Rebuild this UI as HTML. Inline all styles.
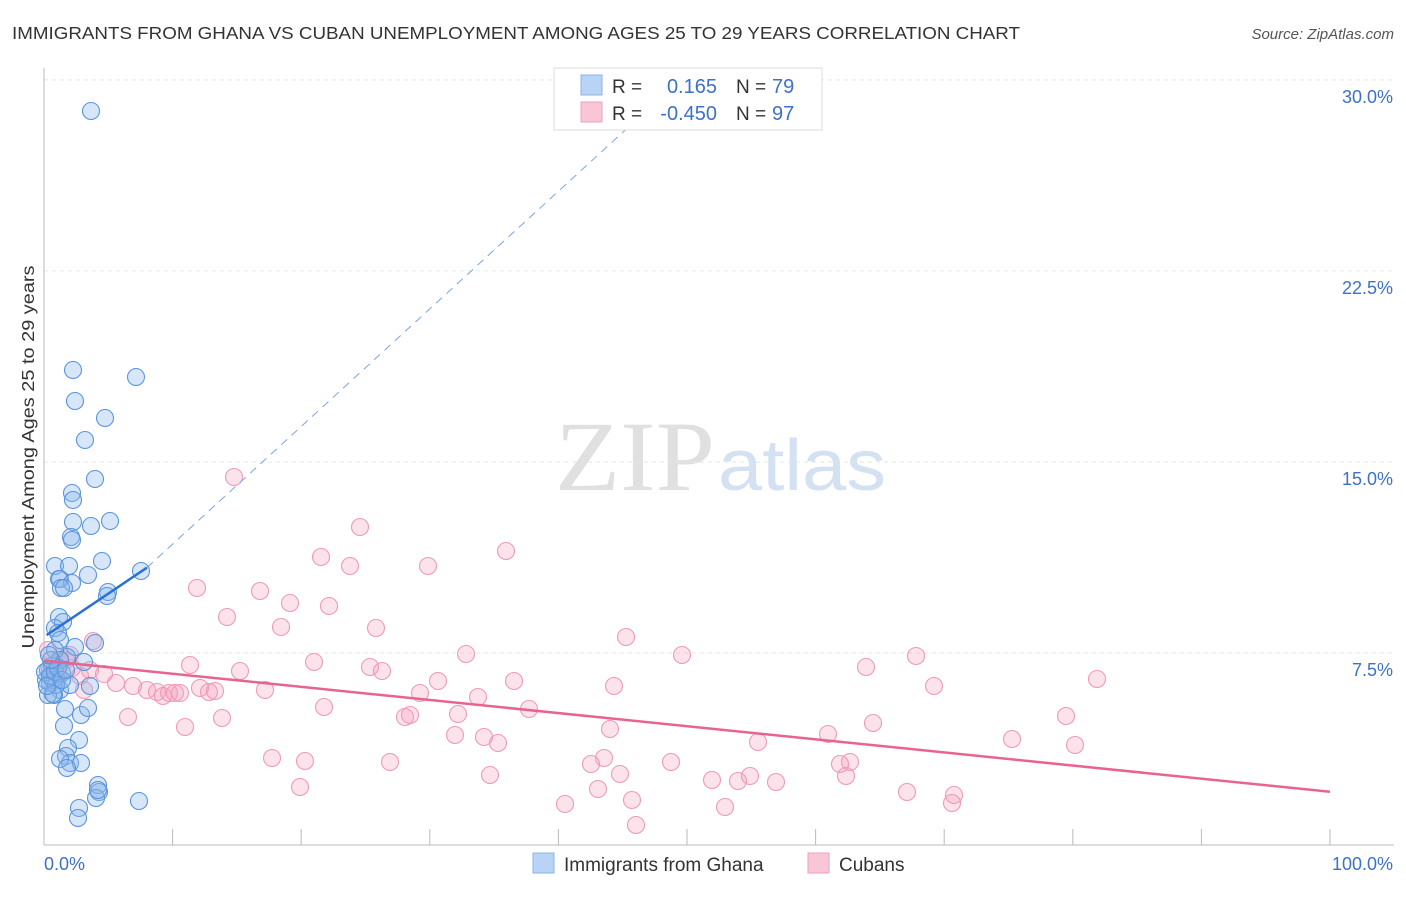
<!DOCTYPE html>
<html><head><meta charset="utf-8"><style>
body{margin:0;background:#fff;font-family:"Liberation Sans",sans-serif}
</style></head><body>
<svg width="1406" height="892" font-family="Liberation Sans, sans-serif">
<text x="12" y="39" font-size="17.5" fill="#333" textLength="1008" lengthAdjust="spacingAndGlyphs">IMMIGRANTS FROM GHANA VS CUBAN UNEMPLOYMENT AMONG AGES 25 TO 29 YEARS CORRELATION CHART</text>
<text x="1394" y="39" font-size="15" fill="#555" text-anchor="end" font-style="italic">Source: ZipAtlas.com</text>
<text x="555" y="490" font-size="100" fill="#e0e0e0" textLength="160" lengthAdjust="spacingAndGlyphs" font-family="Liberation Serif, serif">ZIP</text>
<text x="718" y="490" font-size="72" fill="#d3e1f3" textLength="168" lengthAdjust="spacingAndGlyphs">atlas</text>
<g id="grid"></g>
<g id="axes"></g>
<g id="pts"></g>
<g id="trend"></g>
<text transform="translate(34,457) rotate(-90)" font-size="17.5" fill="#333" text-anchor="middle" textLength="383" lengthAdjust="spacingAndGlyphs">Unemployment Among Ages 25 to 29 years</text>
<g>
<rect x="554" y="68" width="268" height="62" fill="#fff" stroke="#ddd"/>
<rect x="581" y="75" width="21" height="20" fill="#b8d3f5" stroke="#8ab4ea"/>
<rect x="581" y="102" width="21" height="20" fill="#f9c6d6" stroke="#f0a0ba"/>
<text x="612" y="93" font-size="19" fill="#333">R = </text><text x="717" y="93" font-size="20" fill="#3a72c9" text-anchor="end">0.165</text>
<text x="736" y="93" font-size="19" fill="#333">N = </text><text x="772" y="93" font-size="20" fill="#3a72c9">79</text>
<text x="612" y="120" font-size="19" fill="#333">R = </text><text x="717" y="120" font-size="20" fill="#3a72c9" text-anchor="end">-0.450</text>
<text x="736" y="120" font-size="19" fill="#333">N = </text><text x="772" y="120" font-size="20" fill="#3a72c9">97</text>
</g>
<g>
<rect x="533" y="853" width="21" height="20" fill="#b8d3f5" stroke="#8ab4ea"/>
<text x="564" y="871" font-size="19" fill="#333">Immigrants from Ghana</text>
<rect x="808" y="853" width="21" height="20" fill="#f9c6d6" stroke="#f0a0ba"/>
<text x="839" y="871" font-size="19" fill="#333">Cubans</text>
</g>
</svg>
<script>
const yTicks=[7.5,15,22.5,30];
const yTickLabels=["7.5%","15.0%","22.5%","30.0%"];
const xTickLabels=["0.0%","100.0%"];
const ghanaPx=[[91,111],[73,370],[136,377],[75,401],[105,418],[85,440],[95,479],[72,493],[73,500],[73,522],[91,526],[110,521],[71,537],[72,540],[55,566],[69,566],[60,579],[59,579],[72,583],[88,575],[102,561],[61,588],[64,588],[108,592],[107,596],[141,571],[59,617],[63,622],[55,628],[58,633],[60,640],[75,647],[95,643],[67,657],[84,662],[55,650],[52,676],[50,683],[57,680],[62,673],[60,690],[90,686],[54,695],[70,685],[81,715],[88,708],[65,709],[64,726],[79,740],[68,748],[66,756],[70,763],[60,759],[81,763],[67,768],[98,785],[99,792],[96,798],[98,790],[139,801],[79,808],[78,818],[48,695],[46,680],[52,666],[48,670],[53,680],[45,672],[56,685],[60,660],[53,694],[50,676],[55,672],[58,668],[47,686],[62,680],[51,660],[66,670],[49,655]];
const cubaPx=[[234,477],[360,527],[506,551],[321,557],[350,566],[428,566],[197,588],[260,591],[290,603],[329,606],[227,617],[281,627],[376,628],[626,637],[93,641],[682,655],[466,654],[916,656],[190,665],[314,662],[370,667],[382,671],[866,667],[240,671],[60,658],[72,668],[90,670],[104,674],[116,683],[133,686],[147,690],[157,692],[169,693],[175,693],[163,696],[180,693],[200,688],[209,692],[215,691],[265,690],[420,693],[438,681],[478,697],[514,681],[614,686],[934,686],[1097,679],[324,707],[128,717],[222,718],[185,727],[405,717],[410,715],[458,714],[529,709],[610,729],[873,723],[1066,716],[455,735],[484,737],[498,743],[758,742],[828,734],[1012,739],[1075,745],[272,758],[305,761],[390,762],[604,758],[591,764],[671,762],[840,764],[850,762],[300,787],[490,775],[620,774],[712,780],[738,781],[750,776],[776,782],[846,776],[598,789],[907,792],[954,795],[632,800],[565,804],[725,807],[952,803],[636,825],[55,665],[66,660],[80,676],[48,650],[58,674],[70,655],[84,690],[50,670]];
const ghanaX=ghanaPx.map(p=>(p[0]-44)/12.86), ghanaY=ghanaPx.map(p=>(844-p[1])/25.47);
const cubaX=cubaPx.map(p=>(p[0]-44)/12.86), cubaY=cubaPx.map(p=>(844-p[1])/25.47);
const ghanaTrend=[[0.2,8.2],[8,10.85],[46,28.4]];
const cubaTrend=[[0,7.2],[100,2.05]];
const X=v=>44+v*12.86, Y=v=>844-v*25.47;
const NS="http://www.w3.org/2000/svg";
function mk(t,a,parent){const e=document.createElementNS(NS,t);for(const k in a)e.setAttribute(k,a[k]);document.getElementById(parent).appendChild(e);return e;}
yTicks.forEach((v,i)=>{
 const l=mk('line',{x1:44,x2:1394,y1:Y(v),y2:Y(v),stroke:'#e6e6e6','stroke-dasharray':'4,4'},'grid');
 
 
 const t=mk('text',{x:1393,y:Y(v)+23,'font-size':18,fill:'#3a72c9','text-anchor':'end'},'grid');t.textContent=yTickLabels[i];
 
 
});
const ax=mk('line',{x1:44,x2:44,y1:68,y2:845,stroke:'#bbb'},'axes');


const bx=mk('line',{x1:44,x2:1394,y1:845,y2:845,stroke:'#bbb'},'axes');


for(let i=0;i<=10;i++){const t=mk('line',{x1:X(i*10),x2:X(i*10),y1:829,y2:845,stroke:'#bbb'},'axes');
 
 }
const t0=mk('text',{x:44,y:870,'font-size':18,fill:'#3a72c9'},'axes');t0.textContent=xTickLabels[0];


const t1=mk('text',{x:1393,y:870,'font-size':18,fill:'#3a72c9','text-anchor':'end'},'axes');t1.textContent=xTickLabels[1];


cubaX.forEach((x,i)=>{const c=mk('circle',{cx:X(x),cy:Y(cubaY[i]),r:8.5,fill:'rgba(244,160,188,0.3)',stroke:'#ee9ab6','stroke-width':1.1},'pts');
 
 });
ghanaX.forEach((x,i)=>{const c=mk('circle',{cx:X(x),cy:Y(ghanaY[i]),r:8.5,fill:'rgba(140,182,236,0.35)',stroke:'#5a94de','stroke-width':1.1},'pts');
 
 });
const g1=mk('line',{x1:X(ghanaTrend[0][0]),y1:Y(ghanaTrend[0][1]),x2:X(ghanaTrend[1][0]),y2:Y(ghanaTrend[1][1]),stroke:'#2a6fd6','stroke-width':2.5},'trend');


const g2=mk('line',{x1:X(ghanaTrend[1][0]),y1:Y(ghanaTrend[1][1]),x2:X(ghanaTrend[2][0]),y2:Y(ghanaTrend[2][1]),stroke:'#7aa5e0','stroke-width':1,'stroke-dasharray':'8,6'},'trend');


const c1=mk('line',{x1:X(cubaTrend[0][0]),y1:Y(cubaTrend[0][1]),x2:X(cubaTrend[1][0]),y2:Y(cubaTrend[1][1]),stroke:'#e8648f','stroke-width':2.5},'trend');


</script>
</body></html>
